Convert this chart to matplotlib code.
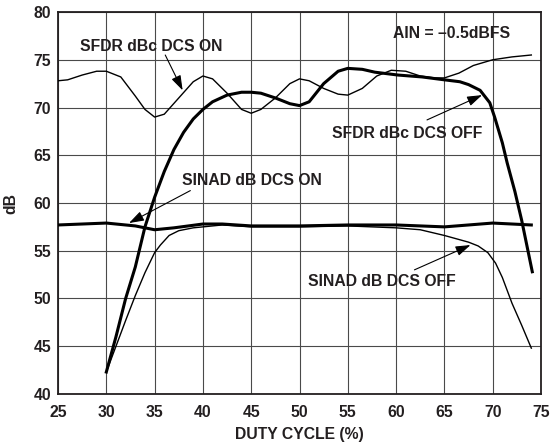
import matplotlib
matplotlib.use("Agg")
import matplotlib.pyplot as plt

plt.rcParams['font.family'] = ['Liberation Sans', 'DejaVu Sans']
plt.rcParams['font.weight'] = 'bold'

TXT = '#231f20'
FS = 11.3

# SFDR dBc, DCS ON (thin)
sfdr_on_x = [25, 26, 27.5, 29, 30, 31.5, 33, 34, 35, 36, 37.5, 39, 40, 41, 42.5, 44, 45,
             46, 47.5, 49, 50, 51, 52.5, 54, 55, 56.5, 58, 59.5, 61, 62.5, 64, 65, 66.5,
             68, 70, 72, 74]
sfdr_on_y = [72.8, 72.9, 73.4, 73.8, 73.8, 73.2, 71.2, 69.8, 69.0, 69.3, 71.0, 72.7, 73.3,
             73.0, 71.5, 69.8, 69.4, 69.8, 71.0, 72.5, 73.0, 72.8, 72.0, 71.4, 71.3, 72.0,
             73.3, 73.9, 73.8, 73.3, 73.1, 73.1, 73.6, 74.4, 75.0, 75.3, 75.5]

# SFDR dBc, DCS OFF (thick)
sfdr_off_x = [30, 31, 32, 33, 34, 35, 36, 37, 38, 39, 40, 41, 42.5, 44, 45, 46, 47.5, 49,
              50, 51, 52.5, 54, 55, 56.5, 57.8, 60.2, 62.7, 65, 66.6, 67.5, 68.7, 69.7,
              70.2, 71.0, 71.5, 72.3, 73.0, 74.1]
sfdr_off_y = [42.3, 46.0, 50.0, 53.3, 57.5, 60.6, 63.3, 65.6, 67.4, 68.8, 69.8, 70.6, 71.3,
              71.6, 71.6, 71.5, 71.0, 70.4, 70.2, 70.6, 72.5, 73.8, 74.1, 74.0, 73.7, 73.4,
              73.2, 72.9, 72.7, 72.4, 71.8, 70.5, 69.0, 66.3, 64.2, 61.2, 58.2, 52.8]

# SINAD dB, DCS ON (thick)
sinad_on_x = [25, 27.5, 30, 32, 33, 35, 37, 40, 42, 45, 50, 55, 60, 65, 67.5, 70, 72, 74]
sinad_on_y = [57.7, 57.8, 57.9, 57.7, 57.6, 57.2, 57.4, 57.8, 57.8, 57.6, 57.6, 57.7, 57.7,
              57.5, 57.7, 57.9, 57.8, 57.7]

# SINAD dB, DCS OFF (thin)
sinad_off_x = [30, 31, 32, 33, 34, 35, 35.6, 36.5, 37.5, 39, 40, 42, 45, 50, 55, 60, 62.5,
               65, 67.5, 68.5, 69.5, 70.3, 71, 72, 73, 74]
sinad_off_y = [42.3, 45.0, 47.7, 50.3, 52.7, 54.8, 55.6, 56.6, 57.1, 57.4, 57.5, 57.7, 57.5,
               57.5, 57.6, 57.4, 57.2, 56.6, 55.9, 55.5, 54.8, 53.7, 52.2, 49.5, 47.2, 44.8]

x_ticks = [25, 30, 35, 40, 45, 50, 55, 60, 65, 70, 75]
y_ticks = [40, 45, 50, 55, 60, 65, 70, 75, 80]

fig = plt.figure(figsize=(5.5, 4.47), dpi=100)
ax = fig.add_axes([0.1055, 0.1186, 0.8781, 0.8545])

ax.plot(sfdr_on_x, sfdr_on_y, color='black', lw=1.0, zorder=3)
ax.plot(sinad_off_x, sinad_off_y, color='black', lw=1.0, zorder=3)
ax.plot(sfdr_off_x, sfdr_off_y, color='black', lw=2.2, zorder=4)
ax.plot(sinad_on_x, sinad_on_y, color='black', lw=2.2, zorder=4)

ax.set_xlim(25, 75)
ax.set_ylim(40, 80)
ax.set_xticks(x_ticks)
ax.set_yticks(y_ticks)
ax.tick_params(length=0, labelsize=FS, colors=TXT)
ax.tick_params(axis='x', pad=8)
ax.tick_params(axis='y', pad=5)
ax.grid(True, color='#4a4a4a', lw=0.8)
ax.set_axisbelow(True)
for s in ax.spines.values():
    s.set_linewidth(1.3)
    s.set_color(TXT)

ax.set_xlabel('DUTY CYCLE (%)', fontsize=FS, fontweight='bold', color=TXT, labelpad=5)
ax.set_ylabel('dB', fontsize=FS, fontweight='bold', color=TXT)
ax.yaxis.set_label_coords(-0.083, 0.5)

ap = dict(arrowstyle='-|>,head_length=0.6,head_width=0.2', color='black', lw=0.8,
          mutation_scale=15, shrinkA=0, shrinkB=0)
kw = dict(fontsize=FS, fontweight='bold', color=TXT, ha='center', va='center', zorder=6)

ax.text(34.7, 76.4, 'SFDR dBc DCS ON', **kw)
ax.annotate('', xy=(37.9, 71.8), xytext=(36.1, 75.5), arrowprops=ap, zorder=6)

ax.text(65.7, 77.8, 'AIN = \u20130.5dBFS', **kw)

ax.text(61.2, 67.3, 'SFDR dBc DCS OFF', **kw)
ax.annotate('', xy=(68.9, 71.3), xytext=(63.2, 68.7), arrowprops=ap, zorder=6)

ax.text(45.1, 62.4, 'SINAD dB DCS ON', **kw)
ax.annotate('', xy=(32.35, 57.9), xytext=(38.7, 61.3), arrowprops=ap, zorder=6)

ax.text(58.5, 51.8, 'SINAD dB DCS OFF', **kw)
ax.annotate('', xy=(67.7, 55.6), xytext=(61.9, 53.0), arrowprops=ap, zorder=6)

fig.savefig('out.png', dpi=100)
